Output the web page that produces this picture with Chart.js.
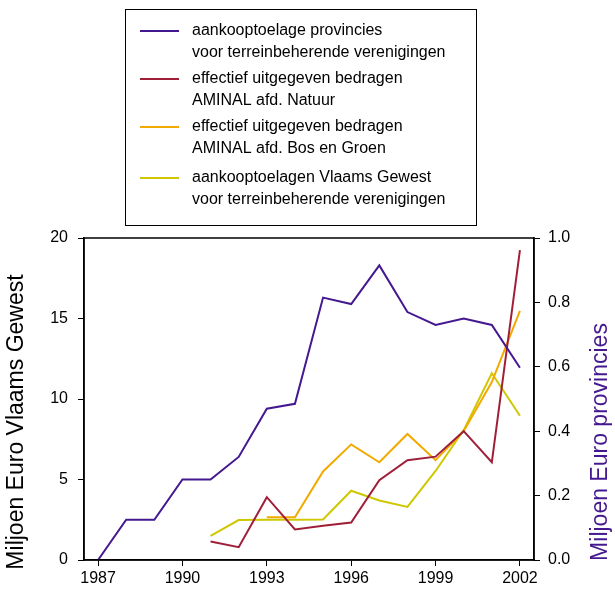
<!DOCTYPE html>
<html>
<head>
<meta charset="utf-8">
<script src="https://cdn.jsdelivr.net/npm/chart.js@4.4.0/dist/chart.umd.min.js"></script>
<style>
  html, body { margin: 0; padding: 0; background: #fff; }
  #wrap { width: 615px; height: 595px; position: relative; }
</style>
</head>
<body>
<div id="wrap"><canvas id="chart"></canvas></div>
<script>
// Years on the x axis
const years = ['1987', '1988', '1989', '1990', '1991', '1992', '1993', '1994',
  '1995', '1996', '1997', '1998', '1999', '2000', '2001', '2002'];
const xTickYears = ['1987', '1990', '1993', '1996', '1999', '2002'];

// Miljoen Euro provincies (right axis)
const provincies = [0, 0.125, 0.125, 0.25, 0.25, 0.32, 0.47, 0.485,
  0.815, 0.795, 0.915, 0.77, 0.73, 0.75, 0.73, 0.597];

// Miljoen Euro Vlaams Gewest (left axis)
const natuur = [null, null, null, null, 1.15, 0.8, 3.9, 1.9,
  2.13, 2.33, 4.95, 6.2, 6.42, 8.0, 6.07, 19.25];
const bosGroen = [null, null, null, null, null, null, 2.65, 2.65,
  5.5, 7.18, 6.07, 7.83, 6.2, 8.0, 11.05, 15.47];
const vlaamsGewest = [null, null, null, null, 1.5, 2.48, 2.5, 2.5,
  2.52, 4.3, 3.7, 3.3, 5.53, 8.07, 11.6, 8.96];

const legendLabels = [
  ['aankooptoelage provincies', 'voor terreinbeherende verenigingen'],
  ['effectief uitgegeven bedragen', 'AMINAL afd. Natuur'],
  ['effectief uitgegeven bedragen', 'AMINAL afd. Bos en Groen'],
  ['aankooptoelagen Vlaams Gewest', 'voor terreinbeherende verenigingen']
];

const colors = {
  purple: '#44188f',
  red: '#a01f38',
  orange: '#f2a900',
  yellow: '#cfc700'
};

const FONT = '"Liberation Sans", Arial, sans-serif';

// Draws the boxed legend, the frame and both axis titles
const decorPlugin = {
  id: 'decor',
  afterDraw(chart) {
    const ctx = chart.ctx;
    const area = chart.chartArea;
    ctx.save();

    // frame round the plot
    ctx.strokeStyle = '#000';
    ctx.lineWidth = 1.5;
    ctx.strokeRect(area.left, area.top, area.right - area.left, area.bottom - area.top);

    // legend box
    ctx.lineWidth = 1;
    ctx.strokeRect(125.5, 9.5, 351, 216);
    const rows = [31, 79, 127, 178];
    ctx.font = '16px ' + FONT;
    ctx.textBaseline = 'middle';
    ctx.fillStyle = '#000';
    chart.data.datasets.forEach((ds, i) => {
      ctx.strokeStyle = ds.borderColor;
      ctx.lineWidth = 2;
      ctx.beginPath();
      ctx.moveTo(140, rows[i]);
      ctx.lineTo(179, rows[i]);
      ctx.stroke();
      ctx.fillText(legendLabels[i][0], 192, rows[i]);
      ctx.fillText(legendLabels[i][1], 192, rows[i] + 22);
    });
    ctx.restore();

    // axis titles, both reading bottom to top
    const title = (text, x, y, color) => {
      ctx.save();
      ctx.font = '23px ' + FONT;
      ctx.textAlign = 'center';
      ctx.textBaseline = 'middle';
      ctx.fillStyle = color;
      ctx.translate(x, y);
      ctx.rotate(-Math.PI / 2);
      ctx.fillText(text, 0, 0);
      ctx.restore();
    };
    title('Miljoen Euro Vlaams Gewest', 17, 422, '#000');
    title('Miljoen Euro provincies', 601, 442, colors.purple);
  }
};

const tickFont = { family: FONT, size: 16 };

new Chart(document.getElementById('chart'), {
  type: 'line',
  data: {
    labels: years,
    datasets: [
      { data: provincies, borderColor: colors.purple, yAxisID: 'yRight' },
      { data: natuur, borderColor: colors.red, yAxisID: 'yLeft' },
      { data: bosGroen, borderColor: colors.orange, yAxisID: 'yLeft' },
      { data: vlaamsGewest, borderColor: colors.yellow, yAxisID: 'yLeft' }
    ].map(ds => ({ ...ds, borderWidth: 2, pointRadius: 0, tension: 0, fill: false }))
  },
  options: {
    responsive: true,
    maintainAspectRatio: false,
    animation: false,
    layout: { padding: { top: 238, left: 0, right: 0, bottom: 0 } },
    plugins: { legend: { display: false }, tooltip: { enabled: false } },
    scales: {
      x: {
        type: 'category',
        offset: true,
        afterBuildTicks(scale) {
          scale.ticks = scale.ticks.filter(t => xTickYears.includes(years[t.value]));
        },
        afterFit(scale) { scale.height = 35; },
        grid: { display: true, drawOnChartArea: false, drawTicks: true, tickLength: 6, color: '#000', offset: false },
        border: { display: true, color: '#000', width: 1.5 },
        ticks: { color: '#000', font: tickFont, padding: 3, maxRotation: 0, autoSkip: false }
      },
      yLeft: {
        position: 'left',
        min: 0,
        max: 20,
        afterFit(scale) { scale.width = 84; },
        grid: { drawOnChartArea: false, drawTicks: true, tickLength: 6, color: '#000' },
        border: { display: true, color: '#000', width: 1.5 },
        ticks: { stepSize: 5, color: '#000', font: tickFont, padding: 10 }
      },
      yRight: {
        position: 'right',
        min: 0,
        max: 1,
        afterFit(scale) { scale.width = 81; },
        grid: { drawOnChartArea: false, drawTicks: true, tickLength: 6, color: '#000' },
        border: { display: true, color: '#000', width: 1.5 },
        ticks: { stepSize: 0.2, color: '#000', font: tickFont, padding: 8, callback: v => v.toFixed(1) }
      }
    }
  },
  plugins: [decorPlugin]
});
</script>
</body>
</html>
